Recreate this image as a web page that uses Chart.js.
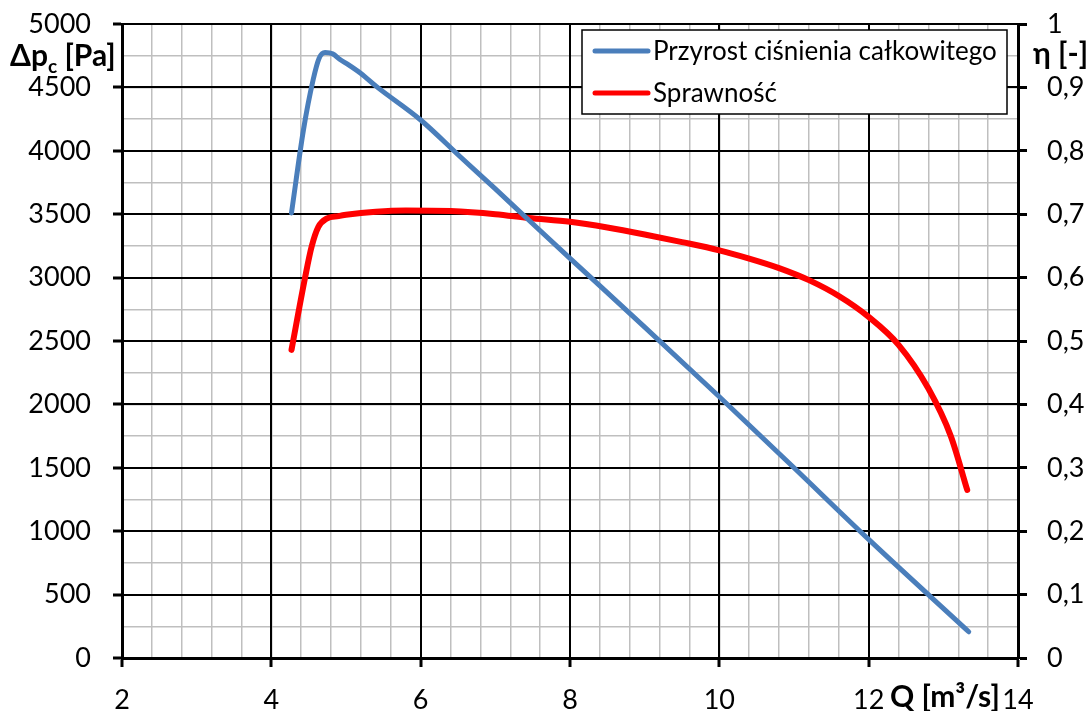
<!DOCTYPE html>
<html>
<head>
<meta charset="utf-8">
<script src="https://cdn.jsdelivr.net/npm/chart.js@4.4.1/dist/chart.umd.min.js"></script>
<style>
  html, body { margin: 0; padding: 0; background: #fff; }
  #wrap { width: 1092px; height: 711px; position: relative; }
</style>
</head>
<body>
<div id="wrap"><canvas id="myChart"></canvas></div>
<script>
// przyrost cisnienia calkowitego [Pa] vs Q [m3/s]
const qPressure = [4.27, 4.43, 4.56, 4.64, 4.72, 4.82, 4.92, 5.03, 5.2, 5.41, 6.0, 6.53, 7.0, 7.45, 8.0, 9.0, 10.0, 11.0, 12.0, 13.34];
const dpValues  = [3510, 4164, 4560, 4730, 4775, 4765, 4720, 4680, 4610, 4506, 4243, 3953, 3700, 3452, 3152, 2610, 2060, 1500, 935, 207];

// sprawnosc [-] vs Q [m3/s]
const qEff      = [4.27, 4.45, 4.54, 4.63, 4.74, 4.9, 5.0, 5.4, 5.8, 6.4, 7.0, 7.45, 8.0, 8.5, 9.0, 9.5, 10.0, 10.4, 10.8, 11.2, 11.6, 12.0, 12.4, 12.8, 13.1, 13.32];
const etaValues = [0.486, 0.599, 0.649, 0.680, 0.693, 0.697, 0.699, 0.704, 0.706, 0.705, 0.700, 0.694, 0.688, 0.679, 0.668, 0.656, 0.643, 0.630, 0.615, 0.596, 0.571, 0.538, 0.494, 0.425, 0.350, 0.265];

const seriesLabels = ['Przyrost ciśnienia całkowitego', 'Sprawność'];
const seriesColors = ['#4a7ebb', '#ff0000'];

const FONT = 'Lato';

const toXY = (xs, ys) => xs.map((x, i) => ({ x: x, y: ys[i] }));

// legenda i opisy osi rysowane recznie
const decorPlugin = {
  id: 'decor',
  afterDraw(chart) {
    const ctx = chart.ctx;
    ctx.save();
    // opisy osi
    ctx.fillStyle = '#000';
    ctx.textBaseline = 'alphabetic';
    ctx.textAlign = 'left';
    ctx.font = 'bold 30px ' + FONT;
    let x = 10;
    ctx.fillText('Δp', x, 66);
    x += ctx.measureText('Δp').width;
    ctx.font = 'bold 19px ' + FONT;
    ctx.fillText('c', x, 73);
    x += ctx.measureText('c').width;
    ctx.font = 'bold 30px ' + FONT;
    ctx.fillText(' [Pa]', x, 66);

    ctx.fillText('η [-]', 1033, 64);
    ctx.fillText('Q [m³/s]', 890, 707);

    // legenda
    const lx = 582, ly = 30, lw = 425, lh = 84;
    ctx.fillStyle = '#fff';
    ctx.fillRect(lx, ly, lw, lh);
    ctx.strokeStyle = '#000';
    ctx.lineWidth = 1.5;
    ctx.strokeRect(lx, ly, lw, lh);
    ctx.font = '26px ' + FONT;
    ctx.textBaseline = 'middle';
    const rows = [51, 93];
    chart.data.datasets.forEach((ds, i) => {
      ctx.strokeStyle = ds.borderColor;
      ctx.lineWidth = 5;
      ctx.lineCap = 'round';
      ctx.beginPath();
      ctx.moveTo(595, rows[i]);
      ctx.lineTo(648, rows[i]);
      ctx.stroke();
      ctx.fillStyle = '#000';
      ctx.fillText(ds.label, 653, rows[i] + 1);
    });
    ctx.restore();
  }
};

const ctx = document.getElementById('myChart').getContext('2d');
const myChart = new Chart(ctx, {
  type: 'line',
  data: {
    datasets: [{
      label: seriesLabels[0],
      data: toXY(qPressure, dpValues),
      borderColor: seriesColors[0],
      borderWidth: 5,
      pointRadius: 0,
      cubicInterpolationMode: 'monotone',
      borderCapStyle: 'round',
      yAxisID: 'y'
    }, {
      label: seriesLabels[1],
      data: toXY(qEff, etaValues),
      borderColor: seriesColors[1],
      borderWidth: 6,
      pointRadius: 0,
      cubicInterpolationMode: 'monotone',
      borderCapStyle: 'round',
      yAxisID: 'y1'
    }]
  },
  options: {
    responsive: true,
    maintainAspectRatio: false,
    animation: false,
    layout: { padding: { top: 24, left: 0, right: 0, bottom: 0 } },
    plugins: {
      legend: { display: false },
      tooltip: { enabled: false }
    },
    scales: {
      x: {
        type: 'linear',
        position: 'bottom',
        min: 2, max: 14,
        afterFit: s => { s.height = 53; s.paddingLeft = 0; s.paddingRight = 0; },
        ticks: { stepSize: 2, color: '#000', padding: 17, font: { family: FONT, size: 27 } },
        grid: { color: '#000', lineWidth: 2, tickLength: 9, tickWidth: 3, z: -1 },
        border: { color: '#000', width: 3 }
      },
      xm: {
        type: 'linear',
        position: 'bottom',
        min: 2, max: 14,
        afterFit: s => { s.height = 0; },
        ticks: { display: false, stepSize: 0.4 },
        grid: { color: '#bfbfbf', lineWidth: 1.5, drawTicks: false, z: -2 },
        border: { display: false }
      },
      y: {
        position: 'left',
        min: 0, max: 5000,
        afterFit: s => { s.width = 122; s.paddingTop = 0; s.paddingBottom = 0; },
        ticks: {
          stepSize: 500, color: '#000', padding: 22, font: { family: FONT, size: 27 },
          callback: v => String(v)
        },
        grid: { color: '#000', lineWidth: 2, tickLength: 9, tickWidth: 3, z: -1 },
        border: { color: '#000', width: 3 }
      },
      ym: {
        position: 'left',
        min: 0, max: 5000,
        afterFit: s => { s.width = 0; s.paddingTop = 0; s.paddingBottom = 0; },
        ticks: { display: false, stepSize: 250 },
        grid: { color: '#bfbfbf', lineWidth: 1.5, drawTicks: false, z: -2 },
        border: { display: false }
      },
      y1: {
        position: 'right',
        min: 0, max: 1,
        afterFit: s => { s.width = 74; s.paddingTop = 0; s.paddingBottom = 0; },
        ticks: {
          stepSize: 0.1, color: '#000', padding: 20, font: { family: FONT, size: 27 },
          callback: v => String(Math.round(v * 10) / 10).replace('.', ',')
        },
        grid: { drawOnChartArea: false, color: '#000', tickLength: 9, tickWidth: 3 },
        border: { color: '#000', width: 3 }
      }
    }
  },
  plugins: [decorPlugin]
});
</script>
</body>
</html>
